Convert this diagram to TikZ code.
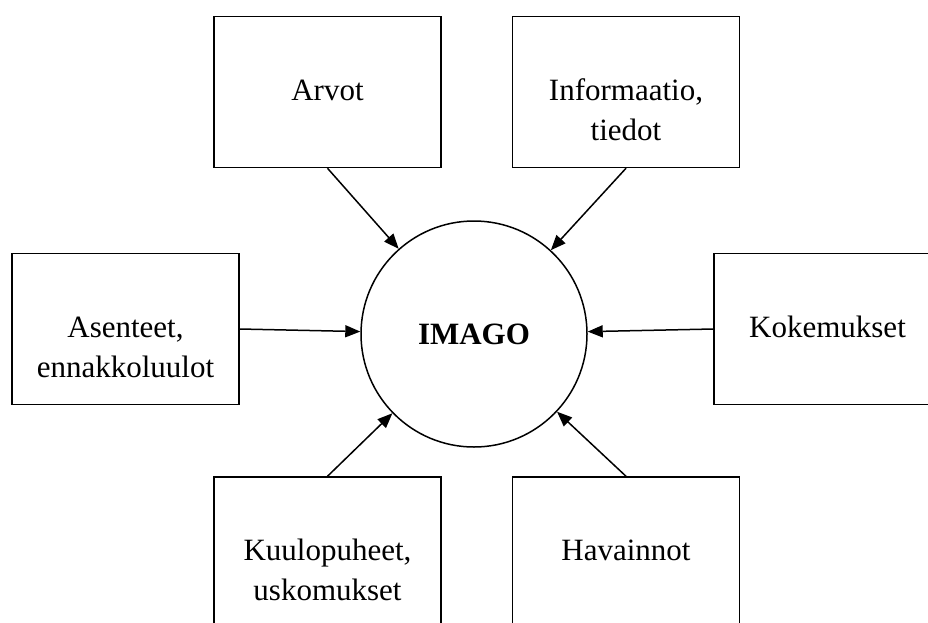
\documentclass[tikz,border=0pt]{standalone}
\usepackage{fontspec}
\setmainfont{Liberation Serif}
\usetikzlibrary{arrows.meta}
\newcommand\twolines[2]{\vtop{\baselineskip=40pt\halign{\hfil##\hfil\cr #1\cr #2\cr}}}
\begin{document}
\begin{tikzpicture}[x=1pt,y=-1pt,
  boxnode/.style={draw,line width=1.5pt,rectangle,minimum width=227pt,minimum height=151pt,inner sep=0pt},
  lbl/.style={anchor=base,inner sep=0pt,font=\fontsize{31}{40}\selectfont},
  conn/.style={line width=1.5pt,-{Triangle[length=15pt,width=12pt]}}]
\useasboundingbox (0,0) rectangle (928,622);
\clip (0,0) rectangle (928,622);
\node[boxnode] (arvot) at (327.5,92) {};
\node[boxnode] (info) at (626,92) {};
\node[boxnode] (asen) at (125.5,329) {};
\node[boxnode] (koke) at (827.5,329) {};
\node[boxnode] (kuulo) at (327.5,552.5) {};
\node[boxnode] (hav) at (626,552.5) {};
\node[draw,circle,line width=1.5pt,minimum size=226pt,inner sep=0pt] (imago) at (474,334) {};
\node[lbl] (arvott) at (327.5,100) {Arvot};
\node[lbl] (infot) at (626,100) {\twolines{Informaatio,}{tiedot}};
\node[lbl] (asent) at (125.5,337) {\twolines{Asenteet,}{ennakkoluulot}};
\node[lbl] (koket) at (827.5,337) {Kokemukset};
\node[lbl] (kuulot) at (327.5,560) {\twolines{Kuulopuheet,}{uskomukset}};
\node[lbl] (havt) at (626,560) {Havainnot};
\node[lbl] (imagot) at (474,344) {\bfseries IMAGO};
\draw[conn] (arvot.south) -- (imago);
\draw[conn] (info.south) -- (imago);
\draw[conn] (asen.east) -- (imago);
\draw[conn] (koke.west) -- (imago);
\draw[conn] (kuulo.north) -- (imago);
\draw[conn] (hav.north) -- (imago);
\end{tikzpicture}
\end{document}
